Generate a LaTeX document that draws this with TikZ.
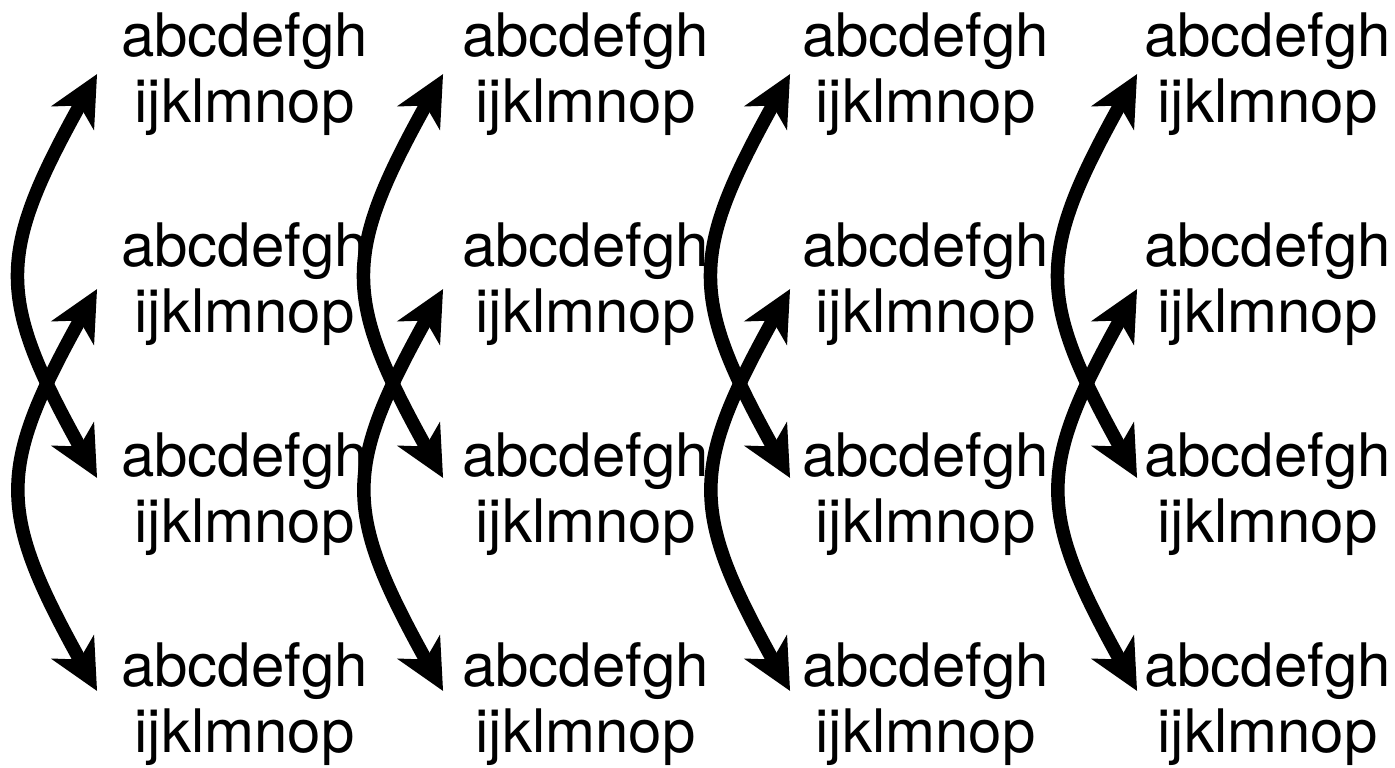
\documentclass[tikz,border=0pt]{standalone}
\usepackage{fontspec}
\setmainfont{TeX Gyre Heros}
\usetikzlibrary{arrows.meta,calc}
\begin{document}
\begin{tikzpicture}[x=1pt,y=1pt,
  lbl/.style={align=center, font=\fontsize{60}{66}\selectfont, inner ysep=0pt, outer sep=0pt},
  gapA/.style={inner xsep=24pt},
  gapB/.style={inner xsep=19pt},
  gapC/.style={inner xsep=12pt},
  gapD/.style={inner xsep=7pt},
  tipstyle/.style={line width=13.5pt,
    {Stealth[length=50pt,width=48pt,inset=14pt]}-{Stealth[length=50pt,width=48pt,inset=14pt]}},
  link/.style={tipstyle, out=241, in=119, looseness=1.32}]
\useasboundingbox (0,0) rectangle (1395,-768);
\foreach \c/\x/\g in {1/244.5/gapA, 2/585.5/gapB, 3/925.5/gapC, 4/1267.5/gapD}{
  \foreach \r/\y in {1/74, 2/284, 3/494, 4/704}{
    \node[lbl,\g] (n\c\r) at (\x,-\y) {abcdefgh\\ijklmnop};
  }
}
\foreach \c in {1,2,3,4}{
  \draw[link] ($(n\c1.west)+(0,0)$) to ($(n\c3.west)+(0,16)$);
  \draw[link] ($(n\c2.west)+(0,-5)$) to ($(n\c4.west)+(0,13)$);
}
\end{tikzpicture}
\end{document}
